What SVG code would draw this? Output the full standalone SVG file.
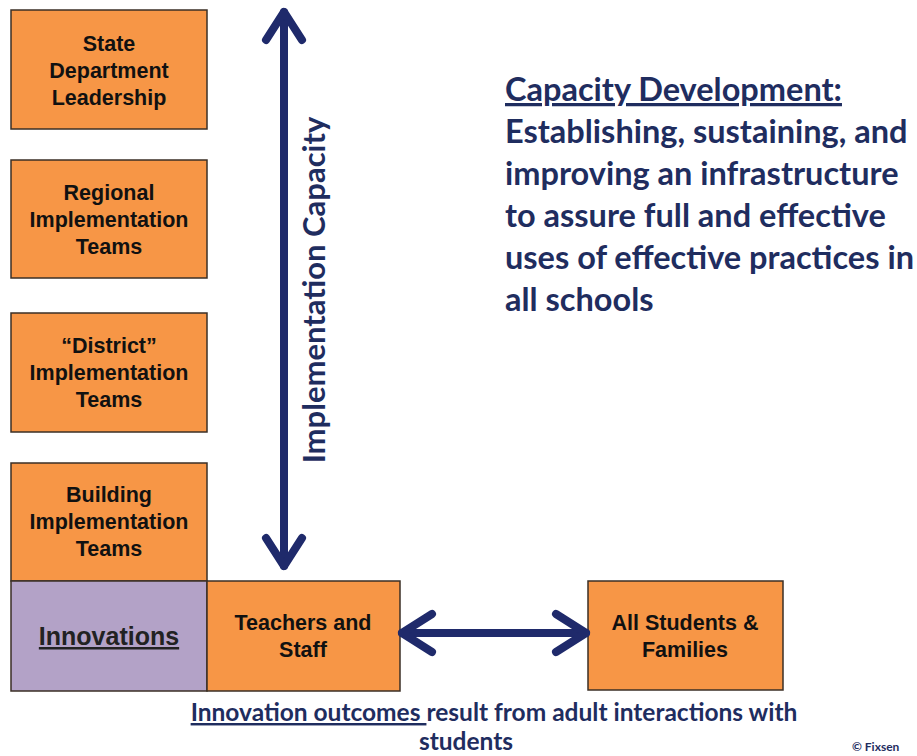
<svg xmlns="http://www.w3.org/2000/svg" width="917" height="756" viewBox="0 0 917 756">
<style>
.box{fill:#F79646;stroke:#3b2f26;stroke-width:1.5}
.purple{fill:#B3A2C7;stroke:#3b2f26;stroke-width:1.5}
.bt{font-family:"Liberation Sans",Arial,sans-serif;font-weight:bold;font-size:21.5px;fill:#111;text-anchor:middle}
.nav{font-family:Lato,"Open Sans",sans-serif;font-weight:bold;fill:#1f2d5f}
.conn{stroke:#1f2a6b;stroke-width:8;fill:none;stroke-linecap:round;stroke-linejoin:round}
</style>
<rect width="917" height="756" fill="#fff"/>
<g id="state">
<rect class="box" x="11" y="10" width="196" height="119"/>
<text class="bt" x="109" y="51">State</text>
<text class="bt" x="109" y="78">Department</text>
<text class="bt" x="109" y="105">Leadership</text>
</g>
<g id="regional">
<rect class="box" x="11" y="160" width="196" height="118"/>
<text class="bt" x="109" y="200">Regional</text>
<text class="bt" x="109" y="227">Implementation</text>
<text class="bt" x="109" y="254">Teams</text>
</g>
<g id="district">
<rect class="box" x="11" y="313" width="196" height="119"/>
<text class="bt" x="109" y="353">“District”</text>
<text class="bt" x="109" y="380">Implementation</text>
<text class="bt" x="109" y="407">Teams</text>
</g>
<g id="building">
<rect class="box" x="11" y="463" width="196" height="118"/>
<text class="bt" x="109" y="502">Building</text>
<text class="bt" x="109" y="529">Implementation</text>
<text class="bt" x="109" y="556">Teams</text>
</g>
<g id="innovations">
<rect class="purple" x="11" y="581" width="196" height="110"/>
<text x="109" y="645" font-family="Liberation Sans,Arial,sans-serif" font-size="25" font-weight="bold" fill="#222" text-anchor="middle" text-decoration="underline">Innovations</text>
</g>
<g id="teachers">
<rect class="box" x="207" y="581" width="193" height="110"/>
<text class="bt" x="303" y="630">Teachers and</text>
<text class="bt" x="303" y="657">Staff</text>
</g>
<g id="students">
<rect class="box" x="588" y="581" width="195" height="109"/>
<text class="bt" x="685" y="630">All Students &amp;</text>
<text class="bt" x="685" y="657">Families</text>
</g>
<g id="connectors">
<line class="conn" x1="284" y1="12" x2="284" y2="566"/>
<polyline class="conn" points="266,40 284,12 302,40"/>
<polyline class="conn" points="266,538 284,566 302,538"/>
<line class="conn" x1="402" y1="633" x2="586" y2="633"/>
<polyline class="conn" points="432,614 402,633 432,652"/>
<polyline class="conn" points="556,614 586,633 556,652"/>
</g>
<g id="label-capacity">
<text class="nav" x="0" y="0" font-size="31" text-anchor="middle" transform="translate(325,290) rotate(-90)">Implementation Capacity</text>
</g>
<g id="capacity-text" class="nav" font-size="32.5">
<text x="505" y="101" text-decoration="underline">Capacity Development:</text>
<text x="505" y="143">Establishing, sustaining, and</text>
<text x="505" y="185">improving an infrastructure</text>
<text x="505" y="227">to assure full and effective</text>
<text x="505" y="269">uses of effective practices in</text>
<text x="505" y="311">all schools</text>
</g>
<g id="outcomes" class="nav" font-size="24.5">
<text x="494" y="721" text-anchor="middle"><tspan text-decoration="underline">Innovation outcomes </tspan>result from adult interactions with</text>
<text x="466" y="750" text-anchor="middle">students</text>
</g>
<text x="852" y="751" font-family="Lato,sans-serif" font-weight="bold" font-size="12" fill="#1f2d5f">© Fixsen</text>
</svg>
